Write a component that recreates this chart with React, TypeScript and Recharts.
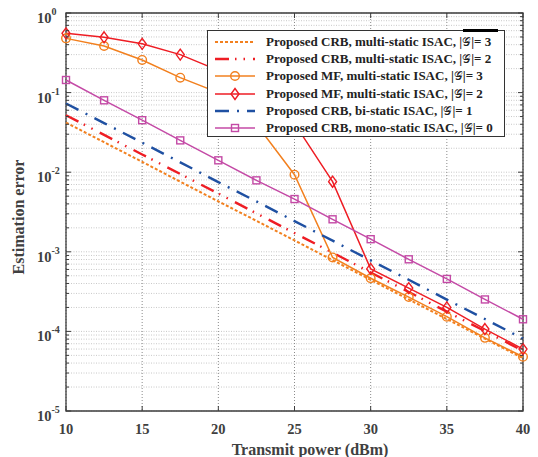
import {
  LineChart,
  Line,
  XAxis,
  YAxis,
  CartesianGrid,
  Legend,
  ReferenceArea,
} from 'recharts'

// transmit power (dBm)
const POWER = [10, 12.5, 15, 17.5, 20, 22.5, 25, 27.5, 30, 32.5, 35, 37.5, 40]

// estimation error
const CRB_MULTI_3 = [0.042, 0.0238, 0.0135, 0.0076, 0.0043, 0.00245, 0.00139, 7.85e-4, 4.45e-4, 2.52e-4, 1.43e-4, 8.1e-5, 4.6e-5]
const CRB_MULTI_2 = [0.052, 0.0294, 0.0167, 0.0095, 0.0054, 0.00304, 0.00172, 9.75e-4, 5.5e-4, 3.13e-4, 1.77e-4, 1.01e-4, 5.7e-5]
const MF_MULTI_3 = [0.48, 0.385, 0.257, 0.154, 0.1, 0.04, 0.0093, 8.5e-4, 4.65e-4, 2.7e-4, 1.53e-4, 8.3e-5, 4.8e-5]
const MF_MULTI_2 = [0.555, 0.495, 0.41, 0.3, 0.19, 0.1, 0.041, 0.0076, 6.1e-4, 3.5e-4, 2.0e-4, 1.07e-4, 6.0e-5]
const CRB_BI = [0.073, 0.0414, 0.0235, 0.0133, 0.0075, 0.0043, 0.00243, 0.00138, 7.8e-4, 4.45e-4, 2.51e-4, 1.43e-4, 8.1e-5]
const CRB_MONO = [0.144, 0.08, 0.045, 0.0251, 0.0141, 0.0079, 0.0046, 0.00256, 0.00144, 8.05e-4, 4.56e-4, 2.52e-4, 1.42e-4]

const X_TICKS = [10, 15, 20, 25, 30, 35, 40]
const Y_EXPONENTS = [-5, -4, -3, -2, -1, 0]

// legend text is split around the script G of |G|
const LEGEND_LABELS = [
  ['Proposed CRB, multi-static ISAC, |', '|= 3'],
  ['Proposed CRB, multi-static ISAC, |', '|= 2'],
  ['Proposed MF, multi-static ISAC, |', '|= 3'],
  ['Proposed MF, multi-static ISAC, |', '|= 2'],
  ['Proposed CRB, bi-static ISAC, |', '|= 1'],
  ['Proposed CRB, mono-static ISAC, |', '|= 0'],
]
const SCRIPT_G = '\u{1D4A2}'

const ORANGE = '#f2801f'
const RED = '#ee1d24'
const BLUE = '#1f50a2'
const MAGENTA = '#c44aa6'

const PLOT_L = 66
const PLOT_R = 523
const PLOT_T = 13
const PLOT_B = 411
const FONT = '"Liberation Serif", "Times New Roman", serif'
const AXIS_GRAY = '#3c3c3c'

const data = POWER.map((p, i) => ({
  power: p,
  crb3: CRB_MULTI_3[i],
  crb2: CRB_MULTI_2[i],
  mf3: MF_MULTI_3[i],
  mf2: MF_MULTI_2[i],
  bi: CRB_BI[i],
  mono: CRB_MONO[i],
}))

// major decades plus 2..9 minor values, like a matlab log axis
const yTicks: number[] = []
Y_EXPONENTS.forEach((e) => {
  yTicks.push(Math.pow(10, e))
  if (e < 0) for (let k = 2; k <= 9; k++) yTicks.push(k * Math.pow(10, e))
})

type MarkerKind = 'none' | 'circle' | 'diamond' | 'square'

const series = [
  { key: 'crb3', color: ORANGE, dash: '3 2', width: 2, marker: 'none' as MarkerKind },
  { key: 'crb2', color: RED, dash: '14 6 1.5 7 1.5 8', width: 2.4, marker: 'none' as MarkerKind },
  { key: 'mf3', color: ORANGE, dash: undefined, width: 1.5, marker: 'circle' as MarkerKind },
  { key: 'mf2', color: RED, dash: undefined, width: 1.5, marker: 'diamond' as MarkerKind },
  { key: 'bi', color: BLUE, dash: '14 8 2 8', width: 2.4, marker: 'none' as MarkerKind },
  { key: 'mono', color: MAGENTA, dash: undefined, width: 1.5, marker: 'square' as MarkerKind },
]

function Marker({ kind, cx, cy, color }: { kind: MarkerKind; cx: number; cy: number; color: string }) {
  if (kind === 'circle') return <circle cx={cx} cy={cy} r={4.3} fill="none" stroke={color} strokeWidth={1.4} />
  if (kind === 'diamond')
    return (
      <polygon
        points={`${cx},${cy - 5.5} ${cx + 4},${cy} ${cx},${cy + 5.5} ${cx - 4},${cy}`}
        fill="none"
        stroke={color}
        strokeWidth={1.4}
      />
    )
  if (kind === 'square')
    return <rect x={cx - 3.5} y={cy - 3.5} width={7} height={7} fill="none" stroke={color} strokeWidth={1.4} />
  return null
}

function YTick(props: any) {
  const { y, payload } = props
  const v = payload.value
  const e = Math.round(Math.log10(v))
  const major = Math.abs(v - Math.pow(10, e)) < 1e-12
  const len = major ? 5 : 3
  return (
    <g>
      <line x1={PLOT_L} x2={PLOT_L + len} y1={y} y2={y} stroke={AXIS_GRAY} strokeWidth={1} />
      <line x1={PLOT_R} x2={PLOT_R - len} y1={y} y2={y} stroke={AXIS_GRAY} strokeWidth={1} />
      {major && (
        <text x={37} y={y + 10} fontFamily={FONT} fontWeight="bold" fontSize={14.5} fill="#404040">
          <tspan>10</tspan>
          <tspan dy={-8} fontSize={10}>{e}</tspan>
        </text>
      )}
    </g>
  )
}

function XTick(props: any) {
  const { x, payload } = props
  return (
    <g>
      <line x1={x} x2={x} y1={PLOT_B} y2={PLOT_B - 5} stroke={AXIS_GRAY} strokeWidth={1} />
      <line x1={x} x2={x} y1={PLOT_T} y2={PLOT_T + 5} stroke={AXIS_GRAY} strokeWidth={1} />
      <text x={x} y={434} textAnchor="middle" fontFamily={FONT} fontWeight="bold" fontSize={14.5} fill="#404040">
        {payload.value}
      </text>
    </g>
  )
}

function LegendBox() {
  return (
    <div
      style={{
        position: 'relative',
        width: 298,
        height: 107,
        boxSizing: 'border-box',
        border: '1.3px solid #333',
        background: '#fff',
        fontFamily: FONT,
        fontWeight: 'bold',
        fontSize: 13,
        color: '#222',
        paddingTop: 2,
      }}
    >
      <div style={{ position: 'absolute', left: 255, top: -2, width: 35, height: 3, background: '#000' }} />
      {series.map((s, i) => (
        <div key={s.key} style={{ display: 'flex', alignItems: 'center', height: 17.3, whiteSpace: 'nowrap' }}>
          <svg width={52} height={14} style={{ flex: 'none', marginLeft: 4 }}>
            <line x1={3} x2={43} y1={7} y2={7} stroke={s.color} strokeWidth={s.width} strokeDasharray={s.dash} />
            <Marker kind={s.marker} cx={23} cy={7} color={s.color} />
          </svg>
          <span style={{ marginLeft: 2 }}>
            {LEGEND_LABELS[i][0]}
            <span style={{ fontFamily: '"DejaVu Serif", serif', fontWeight: 'normal', fontSize: 12 }}>{SCRIPT_G}</span>
            {LEGEND_LABELS[i][1]}
          </span>
        </div>
      ))}
    </div>
  )
}

export default function App() {
  return (
    <div style={{ position: 'absolute', left: 0, top: 0, width: 538, height: 457, background: '#fff' }}>
      <LineChart width={538} height={457} data={data} margin={{ top: PLOT_T, right: 538 - PLOT_R, bottom: 0, left: 0 }}>
        <CartesianGrid vertical={false} stroke="#c8c8c8" strokeDasharray="1 1.5" strokeWidth={1} />
        <CartesianGrid horizontal={false} stroke="#8a8a8a" strokeDasharray="1 2" strokeWidth={1} />
        <XAxis
          dataKey="power"
          type="number"
          domain={[10, 40]}
          ticks={X_TICKS}
          interval={0}
          height={457 - PLOT_B}
          axisLine={false}
          tickLine={false}
          tick={<XTick />}
        />
        <YAxis
          type="number"
          scale="log"
          domain={[1e-5, 1]}
          allowDataOverflow
          ticks={yTicks}
          interval={0}
          width={PLOT_L}
          axisLine={false}
          tickLine={false}
          tick={<YTick />}
        />
        <ReferenceArea
          x1={10}
          x2={40}
          y1={1e-5}
          y2={1}
          fill="none"
          stroke={AXIS_GRAY}
          strokeWidth={1.3}
          ifOverflow="visible"
        />
        {series.map((s) => (
          <Line
            key={s.key}
            dataKey={s.key}
            stroke={s.color}
            strokeWidth={s.width}
            strokeDasharray={s.dash}
            isAnimationActive={false}
            activeDot={false}
            dot={
              s.marker === 'none'
                ? false
                : (p: any) => <Marker key={`${s.key}-${p.index}`} kind={s.marker} cx={p.cx} cy={p.cy} color={s.color} />
            }
          />
        ))}
        <Legend
          layout="vertical"
          align="center"
          verticalAlign="middle"
          wrapperStyle={{ left: 207, top: 30, width: 298, height: 107 }}
          content={() => <LegendBox />}
        />
        <text
          x={310}
          y={455}
          textAnchor="middle"
          fontFamily={FONT}
          fontWeight="bold"
          fontSize={16}
          fill="#404040"
        >
          Transmit power (dBm)
        </text>
        <text
          x={24}
          y={217}
          textAnchor="middle"
          transform="rotate(-90 24 217)"
          fontFamily={FONT}
          fontWeight="bold"
          fontSize={16}
          fill="#404040"
        >
          Estimation error
        </text>
      </LineChart>
    </div>
  )
}
